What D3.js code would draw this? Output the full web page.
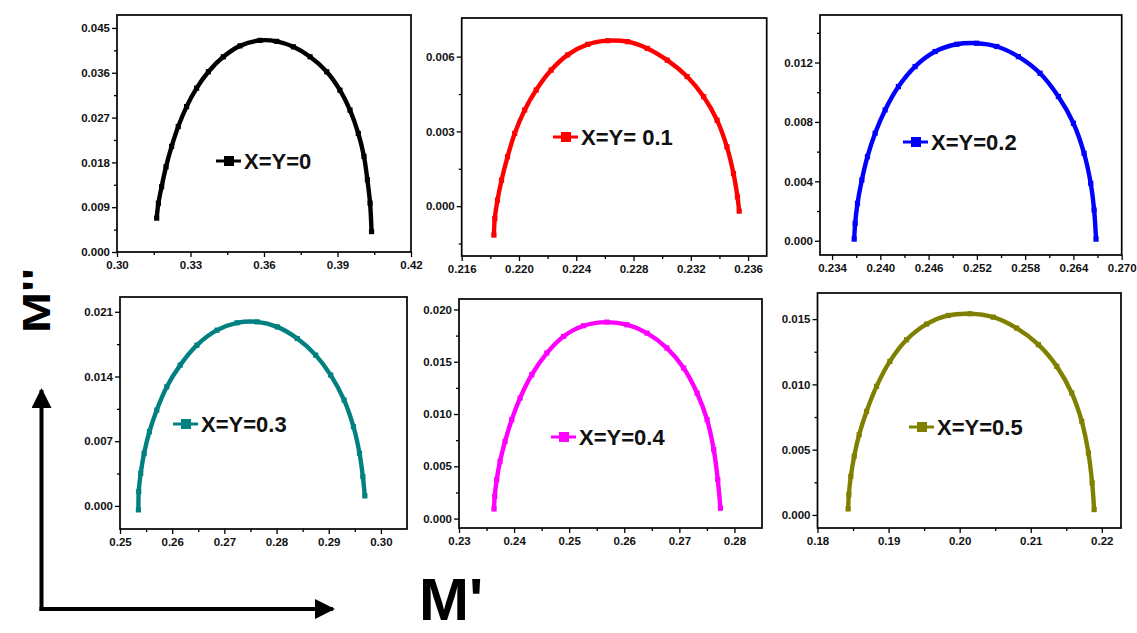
<!DOCTYPE html>
<html>
<head>
<meta charset="utf-8">
<script src="https://cdn.jsdelivr.net/npm/d3@7"></script>
<style>
  body { margin: 0; background: #fff; }
  text { font-family: Arial, "Liberation Sans", sans-serif; }
</style>
</head>
<body>
<svg id="chart" width="1137" height="633"></svg>
<script>
// M' (x) and M'' (y) values, one pair of arrays per composition
var m0_x = [0.3162, 0.3169, 0.3182, 0.3200, 0.3223, 0.3250, 0.3284, 0.3325, 0.3373, 0.3434, 0.3502, 0.3584, 0.3652, 0.3720, 0.3788, 0.3856, 0.3910, 0.3951, 0.3985, 0.4008, 0.4022, 0.4033, 0.4039];
var m0_y = [0.0068, 0.0098, 0.0131, 0.0171, 0.0212, 0.0252, 0.0292, 0.0329, 0.0362, 0.0392, 0.0414, 0.0425, 0.0423, 0.0412, 0.0392, 0.0362, 0.0325, 0.0285, 0.0238, 0.0192, 0.0145, 0.0098, 0.0041];

var m1_x = [0.21825, 0.21831, 0.2185, 0.21878, 0.2192, 0.2197, 0.2204, 0.2212, 0.22225, 0.2234, 0.2248, 0.2262, 0.22758, 0.22896, 0.23035, 0.23174, 0.2329, 0.23383, 0.23452, 0.23498, 0.23526, 0.23538];
var m1_y = [-0.00116, -0.0005, 0.00024, 0.00104, 0.00198, 0.00292, 0.00386, 0.00466, 0.00546, 0.00607, 0.00649, 0.00664, 0.0066, 0.00633, 0.00586, 0.0052, 0.00439, 0.00345, 0.00238, 0.00131, 0.00037, -0.0002];

var m2_x = [0.23675, 0.23687, 0.23716, 0.2377, 0.2384, 0.23935, 0.2406, 0.24225, 0.24432, 0.24681, 0.2495, 0.25198, 0.25447, 0.25716, 0.25985, 0.26213, 0.264, 0.26532, 0.26615, 0.26657, 0.26681];
var m2_y = [0.00011, 0.00117, 0.00252, 0.00409, 0.00566, 0.00724, 0.00881, 0.01038, 0.01173, 0.01274, 0.01323, 0.0133, 0.01308, 0.0124, 0.01128, 0.00971, 0.00791, 0.00589, 0.00386, 0.00207, 0.00011];

var m3_x = [0.25353, 0.25359, 0.25397, 0.25462, 0.25564, 0.25705, 0.25897, 0.26154, 0.26474, 0.26859, 0.27244, 0.27628, 0.28013, 0.28397, 0.2875, 0.29038, 0.29295, 0.29474, 0.2959, 0.29654, 0.29692];
var m3_y = [-0.00043, 0.00155, 0.00353, 0.00569, 0.00803, 0.01037, 0.01289, 0.01523, 0.01739, 0.01901, 0.01981, 0.01991, 0.01937, 0.01811, 0.01631, 0.01415, 0.01145, 0.00857, 0.00569, 0.00317, 0.00108];

var m4_x = [0.23636, 0.23648, 0.23685, 0.23745, 0.23836, 0.23957, 0.24109, 0.24321, 0.24594, 0.24897, 0.2526, 0.25685, 0.26048, 0.26412, 0.26775, 0.27078, 0.27321, 0.27503, 0.27624, 0.27697, 0.27745];
var m4_y = [0.00092, 0.00213, 0.00373, 0.00548, 0.00739, 0.00946, 0.01153, 0.01376, 0.01583, 0.01742, 0.01844, 0.01879, 0.01854, 0.01774, 0.01631, 0.0144, 0.01201, 0.00946, 0.00659, 0.00373, 0.00099];

var m5_x = [0.18431, 0.18441, 0.18469, 0.18516, 0.18586, 0.1869, 0.18831, 0.19018, 0.19253, 0.19535, 0.1984, 0.20145, 0.20474, 0.20802, 0.21108, 0.21366, 0.21577, 0.21718, 0.21812, 0.21864, 0.21892];
var m5_y = [0.00046, 0.00156, 0.00296, 0.00449, 0.00615, 0.00793, 0.00985, 0.01176, 0.01342, 0.01462, 0.01528, 0.01541, 0.01515, 0.01431, 0.01304, 0.01138, 0.00934, 0.00717, 0.00474, 0.00245, 0.00041];

var labels = ["X=Y=0", "X=Y= 0.1", "X=Y=0.2", "X=Y=0.3", "X=Y=0.4", "X=Y=0.5"];

// tick values for each panel
var xTicks = [
  [0.30, 0.33, 0.36, 0.39, 0.42],
  [0.216, 0.220, 0.224, 0.228, 0.232, 0.236],
  [0.234, 0.240, 0.246, 0.252, 0.258, 0.264, 0.270],
  [0.25, 0.26, 0.27, 0.28, 0.29, 0.30],
  [0.23, 0.24, 0.25, 0.26, 0.27, 0.28],
  [0.18, 0.19, 0.20, 0.21, 0.22]
];
var yTicks = [
  [0.000, 0.009, 0.018, 0.027, 0.036, 0.045],
  [0.000, 0.003, 0.006],
  [0.000, 0.004, 0.008, 0.012],
  [0.000, 0.007, 0.014, 0.021],
  [0.000, 0.005, 0.010, 0.015, 0.020],
  [0.000, 0.005, 0.010, 0.015]
];
var xMinor = [
  [0.315, 0.345, 0.375, 0.405],
  [0.218, 0.222, 0.226, 0.230, 0.234],
  [0.237, 0.243, 0.249, 0.255, 0.261, 0.267],
  [0.255, 0.265, 0.275, 0.285, 0.295],
  [0.235, 0.245, 0.255, 0.265, 0.275],
  [0.185, 0.195, 0.205, 0.215]
];
var yMinor = [
  [0.0045, 0.0135, 0.0225, 0.0315, 0.0405],
  [-0.0015, 0.0015, 0.0045],
  [0.002, 0.006, 0.010, 0.014],
  [0.0035, 0.0105, 0.0175],
  [0.0025, 0.0075, 0.0125, 0.0175],
  [0.0025, 0.0075, 0.0125]
];
var xDomains = [[0.30, 0.42], [0.216, 0.2373], [0.2325, 0.270], [0.25, 0.305], [0.23, 0.285], [0.18, 0.2227]];
var yDomains = [[0, 0.0476], [-0.002, 0.00755], [-0.00096, 0.0152], [-0.0025, 0.0226], [-0.0009, 0.021], [-0.001, 0.017]];

var xs = [m0_x, m1_x, m2_x, m3_x, m4_x, m5_x];
var ys = [m0_y, m1_y, m2_y, m3_y, m4_y, m5_y];

// layout: frame box of each panel and legend anchor (px)
var colors = ["#000000", "#ff0000", "#0000ff", "#008080", "#ff00ff", "#808000"];
var frames = [
  {l: 117, r: 411, t: 15, b: 252},
  {l: 461.7, r: 766.7, t: 18, b: 256},
  {l: 820, r: 1121.7, t: 15, b: 255},
  {l: 120, r: 407, t: 297, b: 529},
  {l: 459, r: 762, t: 299, b: 528},
  {l: 817.5, r: 1121, t: 293, b: 528}
];
var legendPos = [[216, 161], [553, 137], [903, 142], [173, 424], [551, 437], [909, 427]];
var yFmt = [".3f", ".3f", ".3f", ".3f", ".3f", ".3f"];
var xFmt = [".2f", ".3f", ".3f", ".2f", ".2f", ".2f"];

var svg = d3.select("#chart");

svg.append("rect").attr("width", 1137).attr("height", 633).attr("fill", "#fff");

frames.forEach(function(f, i) {
  var w = f.r - f.l, h = f.b - f.t;
  var g = svg.append("g").attr("transform", "translate(" + f.l + "," + f.t + ")");

  var x = d3.scaleLinear().domain(xDomains[i]).range([0, w]);
  var y = d3.scaleLinear().domain(yDomains[i]).range([h, 0]);

  // major + minor ticks
  g.append("g").attr("transform", "translate(0," + h + ")")
    .call(d3.axisBottom(x).tickValues(xTicks[i]).tickSize(5).tickPadding(4).tickFormat(d3.format(xFmt[i])));
  g.append("g").attr("transform", "translate(0," + h + ")")
    .call(d3.axisBottom(x).tickValues(xMinor[i]).tickSize(3).tickFormat(""));
  g.append("g")
    .call(d3.axisLeft(y).tickValues(yTicks[i]).tickSize(5).tickPadding(2).tickFormat(d3.format(yFmt[i])));
  g.append("g")
    .call(d3.axisLeft(y).tickValues(yMinor[i]).tickSize(3).tickFormat(""));

  g.selectAll(".domain").remove();
  g.selectAll(".tick line").attr("stroke", "#000").attr("stroke-width", 1.3);
  g.selectAll(".tick text").attr("fill", "#111").attr("font-size", 11.5).attr("font-weight", "bold")
    .style("font-family", "Arial, 'Liberation Sans', sans-serif");

  g.append("rect").attr("width", w).attr("height", h)
    .attr("fill", "none").attr("stroke", "#000").attr("stroke-width", 1.7);

  var pts = xs[i].map(function(v, k) { return [v, ys[i][k]]; });
  g.append("path").datum(pts)
    .attr("fill", "none").attr("stroke", colors[i]).attr("stroke-width", 4.4)
    .attr("stroke-linejoin", "round")
    .attr("d", d3.line().x(function(d) { return x(d[0]); }).y(function(d) { return y(d[1]); }).curve(d3.curveCatmullRom));
  g.selectAll("rect.pt").data(pts).enter().append("rect").attr("class", "pt")
    .attr("x", function(d) { return x(d[0]) - 2.6; })
    .attr("y", function(d) { return y(d[1]) - 2.6; })
    .attr("width", 5.2).attr("height", 5.2).attr("fill", colors[i]);

  // legend
  var lp = legendPos[i];
  var lg = svg.append("g").attr("transform", "translate(" + lp[0] + "," + lp[1] + ")");
  lg.append("line").attr("x1", 0).attr("x2", 25).attr("stroke", colors[i]).attr("stroke-width", 3);
  lg.append("rect").attr("x", 8).attr("y", -5).attr("width", 10).attr("height", 10).attr("fill", colors[i]);
  lg.append("text").attr("x", 28).attr("y", 8).attr("font-size", 22).attr("font-weight", "bold")
    .attr("fill", "#111").text(labels[i]);
});

// big axis names with arrows
svg.append("defs").append("marker").attr("id", "head")
  .attr("viewBox", "0 0 10 10").attr("refX", 9).attr("refY", 5)
  .attr("markerWidth", 7.5).attr("markerHeight", 5).attr("markerUnits", "strokeWidth")
  .attr("orient", "auto")
  .append("path").attr("d", "M0,0 L10,5 L0,10 z").attr("fill", "#000");

svg.append("path").attr("d", "M41.5,611 L41.5,390")
  .attr("stroke", "#000").attr("stroke-width", 4).attr("fill", "none").attr("marker-end", "url(#head)");
svg.append("path").attr("d", "M39.5,609 L333,609")
  .attr("stroke", "#000").attr("stroke-width", 4).attr("fill", "none").attr("marker-end", "url(#head)");

svg.append("text").attr("transform", "translate(50,333) rotate(-90) scale(1.3,1)")
  .attr("font-size", 38).attr("font-weight", "bold").attr("fill", "#000").text("M''");
svg.append("text").attr("x", 419).attr("y", 620)
  .attr("font-size", 60).attr("font-weight", "bold").attr("fill", "#000").text("M'");
</script>
</body>
</html>
